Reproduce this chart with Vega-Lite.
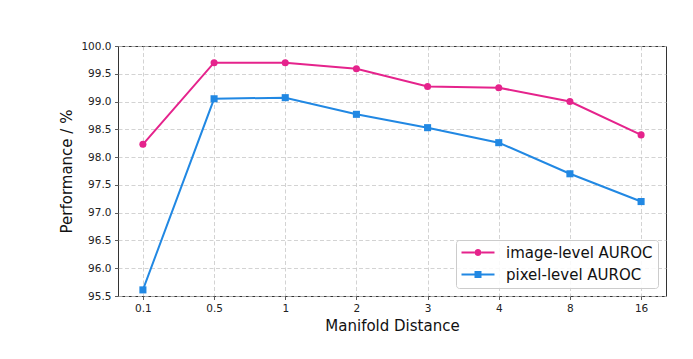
{
  "$schema": "https://vega.github.io/schema/vega-lite/v6.json",
  "width": 548,
  "height": 250,
  "autosize": "none",
  "padding": {"left": 118, "top": 46, "right": 27, "bottom": 63},
  "background": "white",
  "config": {
    "font": "DejaVu Sans",
    "view": {"stroke": "#333333", "strokeWidth": 1},
    "axis": {
      "labelFont": "DejaVu Sans",
      "labelFontSize": 10.5,
      "labelColor": "#222222",
      "titleFont": "DejaVu Sans",
      "titleFontSize": 15,
      "titleFontWeight": "normal",
      "titleColor": "#111111",
      "domain": false,
      "tickColor": "#333333",
      "tickSize": 3.5,
      "tickWidth": 0.8,
      "labelPadding": 3.5,
      "gridColor": "#c8c8c8",
      "gridDash": [4, 2.5],
      "gridWidth": 0.8
    },
    "legend": {
      "labelFont": "DejaVu Sans",
      "labelFontSize": 15,
      "labelColor": "#111111"
    }
  },
  "data": {
    "values": [
      {"distance": "0.1", "metric": "image-level AUROC", "value": 98.23},
      {"distance": "0.5", "metric": "image-level AUROC", "value": 99.70},
      {"distance": "1", "metric": "image-level AUROC", "value": 99.70},
      {"distance": "2", "metric": "image-level AUROC", "value": 99.59},
      {"distance": "3", "metric": "image-level AUROC", "value": 99.27},
      {"distance": "4", "metric": "image-level AUROC", "value": 99.25},
      {"distance": "8", "metric": "image-level AUROC", "value": 99.00},
      {"distance": "16", "metric": "image-level AUROC", "value": 98.40},
      {"distance": "0.1", "metric": "pixel-level AUROC", "value": 95.61},
      {"distance": "0.5", "metric": "pixel-level AUROC", "value": 99.05},
      {"distance": "1", "metric": "pixel-level AUROC", "value": 99.07},
      {"distance": "2", "metric": "pixel-level AUROC", "value": 98.77},
      {"distance": "3", "metric": "pixel-level AUROC", "value": 98.53},
      {"distance": "4", "metric": "pixel-level AUROC", "value": 98.26},
      {"distance": "8", "metric": "pixel-level AUROC", "value": 97.70},
      {"distance": "16", "metric": "pixel-level AUROC", "value": 97.20}
    ]
  },
  "encoding": {
    "x": {
      "field": "distance",
      "type": "ordinal",
      "sort": ["0.1", "0.5", "1", "2", "3", "4", "8", "16"],
      "scale": {"type": "point", "padding": 0.35},
      "axis": {"title": "Manifold Distance", "labelAngle": 0, "grid": true, "titlePadding": 5}
    },
    "y": {
      "field": "value",
      "type": "quantitative",
      "scale": {"domain": [95.5, 100], "nice": false, "zero": false},
      "axis": {
        "title": "Performance / %",
        "values": [95.5, 96, 96.5, 97, 97.5, 98, 98.5, 99, 99.5, 100],
        "format": ".1f",
        "grid": true,
        "titlePadding": 6
      }
    },
    "color": {
      "field": "metric",
      "type": "nominal",
      "scale": {"domain": ["image-level AUROC", "pixel-level AUROC"], "range": ["#e5238c", "#2188e3"]},
      "legend": {
        "title": null,
        "orient": "bottom-right",
        "offset": 8,
        "padding": 5,
        "rowPadding": 6,
        "fillColor": "rgba(255,255,255,0.85)",
        "strokeColor": "#cccccc",
        "cornerRadius": 3,
        "symbolSize": 196,
        "symbolStrokeWidth": 0,
        "symbolOpacity": 1,
        "labelOffset": 30,
        "encode": {
          "symbols": {
            "update": {
              "opacity": {"value": 1},
              "fillOpacity": {"value": 1},
              "fill": {"signal": "datum.value == 'image-level AUROC' ? '#e5238c' : '#2188e3'"},
              "strokeWidth": {"value": 0}
            }
          }
        }
      }
    }
  },
  "layer": [
    {"mark": {"type": "line", "strokeWidth": 2}},
    {
      "transform": [{"filter": "datum.metric == 'image-level AUROC'"}],
      "mark": {"type": "point", "shape": "circle", "filled": true, "opacity": 1, "size": 50}
    },
    {
      "transform": [{"filter": "datum.metric == 'pixel-level AUROC'"}],
      "mark": {"type": "point", "shape": "square", "filled": true, "opacity": 1, "size": 50}
    },
    {
      "mark": {"type": "point", "filled": true, "opacity": 0, "size": 196},
      "encoding": {
        "shape": {
          "field": "metric",
          "type": "nominal",
          "scale": {
            "domain": ["image-level AUROC", "pixel-level AUROC"],
            "range": [
              "M-1,-0.143H0.857V0.143H-1Z M1.857,-0.143H3.714V0.143H1.857Z M0.857,0A0.5,0.5 0 1,0 1.857,0A0.5,0.5 0 1,0 0.857,0Z",
              "M-1,-0.143H0.857V0.143H-1Z M1.857,-0.143H3.714V0.143H1.857Z M0.857,-0.5H1.857V0.5H0.857Z"
            ]
          }
        }
      }
    }
  ]
}
